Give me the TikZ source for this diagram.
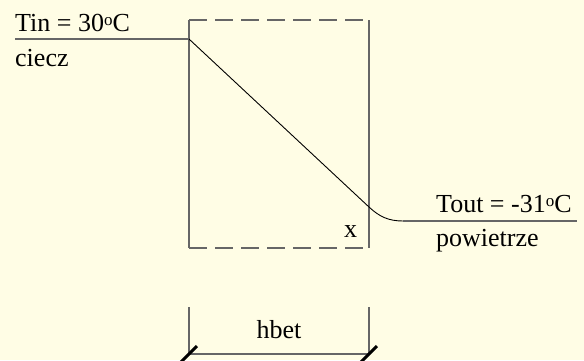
\documentclass[tikz,border=0pt]{standalone}
\usepackage{fontspec}
\setmainfont{Liberation Serif}
\usetikzlibrary{positioning}
\definecolor{papier}{HTML}{FFFDE5}
\definecolor{szary}{HTML}{666666}
\newcommand{\stopien}{\raisebox{0.2em}{\fontsize{17}{17}\selectfont o}}
\tikzset{
  txt/.style={inner sep=0pt, anchor=base west, font=\fontsize{26}{30}\selectfont},
  ramka/.style={szary, line width=1.3pt},
  kreska/.style={ramka, dash pattern=on 18pt off 8pt},
  ukos/.style={black, line width=3pt}
}

\begin{document}
\begin{tikzpicture}[x=1pt, y=-1pt]
\fill[papier] (0,0) rectangle (584,360);
\useasboundingbox (0,0) rectangle (584,360);
% ramka wymiennika
\coordinate (lg) at (189,20);
\coordinate (pg) at (369,20);
\coordinate (ld) at (189,248);
\coordinate (pd) at (369,248);
\draw[ramka] (lg) -- (ld);
\draw[ramka] (pg) -- (pd);
\draw[kreska] (lg) -- (pg);
\draw[kreska] (ld) -- (pd);
% przebieg temperatury
\coordinate (we) at (15,39);
\coordinate (wej) at (189,39);
\coordinate (wyj) at (369,207);
\coordinate (zak) at (403,221);
\coordinate (wy) at (577,221);
\draw[ramka] (we) -- (wej);
\draw[black, line width=0.9pt] (wej) -- (wyj) to[out=-43, in=180] (zak);
\draw[ramka] (zak) -- (wy);
% opisy
\node[txt] (tin) at (15,31) {Tin = 30\stopien C};
\node[txt] (ciecz) at (15,66) {ciecz};
\node[txt] (iks) at (344,237) {x};
\node[txt] (tout) at (436,212) {Tout = -31\stopien C};
\node[txt] (pow) at (436,246) {powietrze};
% wymiar hbet
\coordinate (w1) at (189,307);
\coordinate (w2) at (369,307);
\coordinate (d1) at (189,354);
\coordinate (d2) at (369,354);
\draw[ramka] (w1) -- (d1) -- (d2) -- (w2);
\draw[ukos] ([shift={(-8,8)}]d1) -- ([shift={(8,-8)}]d1);
\draw[ukos] ([shift={(-8,8)}]d2) -- ([shift={(8,-8)}]d2);
\node[txt, anchor=base] (hbet) at (279,338) {hbet};
\end{tikzpicture}
\end{document}
